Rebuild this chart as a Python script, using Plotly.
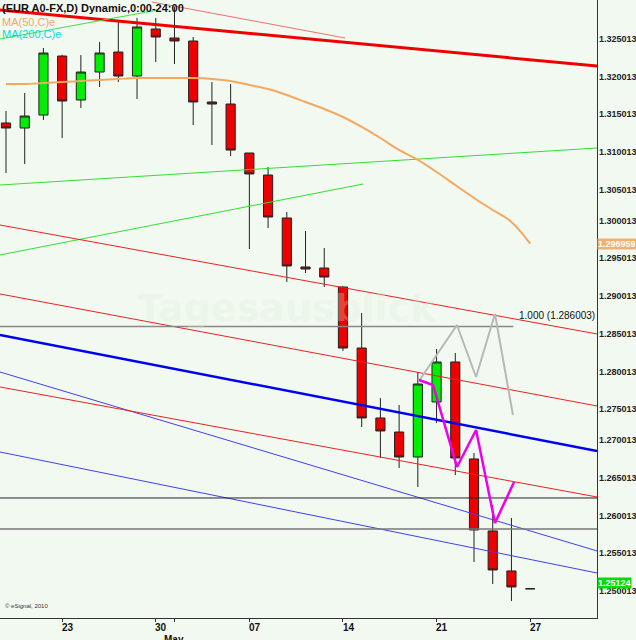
import plotly.graph_objects as go

# trading-day index 0 = Apr 18
idx = list(range(29))
opens  = [1.31296,1.31229,1.31401,1.32183,1.31600,1.31971,1.32236,1.31918,1.32541,1.32422,1.32382,1.31574,1.31547,1.30898,1.30606,1.30037,1.29388,1.29374,1.29122,1.28314,1.27387,1.27201,1.26870,1.27599,1.28129,1.26844,1.25890,1.25360,1.25124]
highs  = [1.31455,1.31693,1.32289,1.32200,1.32196,1.32369,1.32660,1.32687,1.32687,1.32833,1.32435,1.31839,1.31812,1.30898,1.30712,1.30116,1.29865,1.29639,1.29136,1.28778,1.27651,1.27559,1.27996,1.28301,1.28248,1.26923,1.26234,1.26062,1.25124]
lows   = [1.30633,1.30752,1.31335,1.31096,1.31494,1.31772,1.31839,1.31613,1.32104,1.32077,1.31269,1.31004,1.30858,1.29626,1.29904,1.29189,1.29308,1.29122,1.28275,1.27268,1.26857,1.26724,1.26472,1.27320,1.26631,1.25479,1.25187,1.24962,1.25124]
closes = [1.31229,1.31388,1.32223,1.31587,1.31971,1.32223,1.31918,1.32568,1.32435,1.32382,1.31574,1.31547,1.30937,1.30620,1.30050,1.29401,1.29361,1.29255,1.28314,1.27387,1.27215,1.26870,1.27837,1.28129,1.26857,1.25903,1.25373,1.25148,1.25124]
ma50 = [1.31812,1.31812,1.31825,1.31839,1.31852,1.31865,1.31879,1.31892,1.31892,1.31892,1.31892,1.31879,1.31852,1.31799,1.31746,1.31667,1.31574,1.31481,1.31375,1.31243,1.31097,1.30938,1.30806,1.30646,1.30474,1.30302,1.30143,1.29984,1.29696]

tick_idx = [3, 8, 9, 13, 18, 23, 28]
label_idx = [3, 8, 13, 18, 23, 28]
tick_text = ["23", "30", "07", "14", "21", "27"]
y_ticks = [1.250013 + 0.005*i for i in range(16)]

X0, X1 = -0.32, 31.57
Y0, Y1 = 1.247366, 1.329253
# trend lines: (x0, y0, x1, y1, color, width)
trend_lines = [
    (X0, 1.32793, X1, 1.32051, "#ee0000", 3),
    (7.8, 1.32899, 18.11, 1.32422, "#f07070", 1),
    (X0, 1.32409, 8.12, 1.32793, "#40e040", 1),
    (X0, 1.30474, X1, 1.30964, "#30e030", 1),
    (X0, 1.29547, 19.07, 1.30487, "#30e030", 1),
    (X0, 1.29944, X1, 1.28500, "#ee2020", 1),
    (X0, 1.29030, X1, 1.27546, "#ee2020", 1),
    (X0, 1.28487, X1, 1.26950, "#0000ee", 2.5),
    (X0, 1.27996, X1, 1.25625, "#4040ee", 1),
    (X0, 1.27798, X1, 1.26340, "#ee2020", 1),
    (X0, 1.26936, X1, 1.25333, "#4040ee", 1),
    (X0, 1.26327, X1, 1.26327, "#222222", 1),
    (X0, 1.25917, X1, 1.25917, "#777777", 1.5),
    (X0, 1.286003, 27.1, 1.286003, "#888888", 1.5),
]
grey_x = [22.06, 24.09, 25.11, 26.12, 27.08]
grey_y = [1.27877, 1.28619, 1.27930, 1.28765, 1.27427]
mag_x = [22.06, 22.81, 24.09, 25.11, 26.12, 27.14]
mag_y = [1.27890, 1.27824, 1.26738, 1.27228, 1.25996, 1.26539]

fig = go.Figure()
for x0, y0, x1, y1, c, w in trend_lines:
    fig.add_trace(go.Scatter(x=[x0, x1], y=[y0, y1], mode="lines",
                             line=dict(color=c, width=w), hoverinfo="skip"))
fig.add_trace(go.Scatter(x=grey_x, y=grey_y, mode="lines", line=dict(color="#b8b8b8", width=2)))
fig.add_trace(go.Scatter(x=idx, y=ma50, mode="lines", line=dict(color="#f4a860", width=2, shape="spline")))
fig.add_trace(go.Candlestick(x=idx, open=opens, high=highs, low=lows, close=closes,
    increasing=dict(line=dict(color="#222222", width=1), fillcolor="#00ee00"),
    decreasing=dict(line=dict(color="#222222", width=1), fillcolor="#ee0000"),
    whiskerwidth=0))
fig.add_trace(go.Scatter(x=mag_x, y=mag_y, mode="lines", line=dict(color="#ee00ee", width=2.5)))

def ypaper(v):
    return (v - Y0) / (Y1 - Y0)

ann = [
    dict(x=0, y=1, xref="paper", yref="paper", xanchor="left", yanchor="top",
         text="<b>(EUR A0-FX,D) Dynamic,0:00-24:00</b>", font=dict(size=11, color="#111")),
    dict(x=0, y=0.978, xref="paper", yref="paper", xanchor="left", yanchor="top",
         text="MA(50,C)e", font=dict(size=11, color="#f4a860")),
    dict(x=0, y=0.958, xref="paper", yref="paper", xanchor="left", yanchor="top",
         text="MA(200,C)e", font=dict(size=11, color="#00dddd")),
    dict(x=15, y=1.2885, text="<b>Tagesausblick</b>", showarrow=False,
         font=dict(size=38, color="rgba(220,238,216,0.3)", family="DejaVu Sans")),
    dict(x=27.3, y=1.2875, xanchor="left", text="1.000 (1.286003)", showarrow=False,
         font=dict(size=10, color="#111")),
    dict(x=0.005, y=0.012, xref="paper", yref="paper", xanchor="left", text="© eSignal, 2010",
         showarrow=False, font=dict(size=6, color="#333")),
    dict(x=9, y=-0.022, yref="paper", yanchor="top", text="<b>May</b>",
         font=dict(size=10, color="#111")),
]
for v in y_ticks:
    ann.append(dict(x=1.0, xref="paper", y=ypaper(v), yref="paper", xanchor="left", xshift=0,
                    text=f"<b>{v:.6f}</b>", font=dict(size=9, color="#222")))
for v, txt, bg in [(1.25124, "1.25124", "#00dd00"), (1.296959, "1.296959", "#f0b070")]:
    ann.append(dict(x=1.0, xref="paper", y=ypaper(v), yref="paper", xanchor="left", xshift=0,
                    text=f"<b>{txt}</b>", bgcolor=bg, borderpad=0,
                    font=dict(size=9, color="white")))
for i, t in zip(label_idx, tick_text):
    ann.append(dict(x=i + 0.3, y=-0.003, yref="paper", yanchor="top", text=f"<b>{t}</b>",
                    font=dict(size=10, color="#111")))
for a in ann:
    a.setdefault("showarrow", False)
fig.update_layout(
    width=636, height=640, margin=dict(l=0, r=39, t=0, b=22),
    paper_bgcolor="#f2f9f1", plot_bgcolor="#f2f9f1", showlegend=False,
    font=dict(family="Liberation Sans", size=10, color="#111"),
    annotations=ann,
    xaxis=dict(range=[X0, X1], tickvals=tick_idx, showticklabels=False, showgrid=False,
               zeroline=False, rangeslider=dict(visible=False), showline=True,
               linecolor="#333", ticks="outside", ticklen=3, tickcolor="#333"),
    yaxis=dict(range=[Y0, Y1], side="right", showticklabels=False, showgrid=False,
               zeroline=False, showline=True, linecolor="#333", ticks=""),
)
fig.write_html("out.html", config={"displayModeBar": False},
               post_script="document.body.style.margin='0';document.body.style.overflow='hidden';")
